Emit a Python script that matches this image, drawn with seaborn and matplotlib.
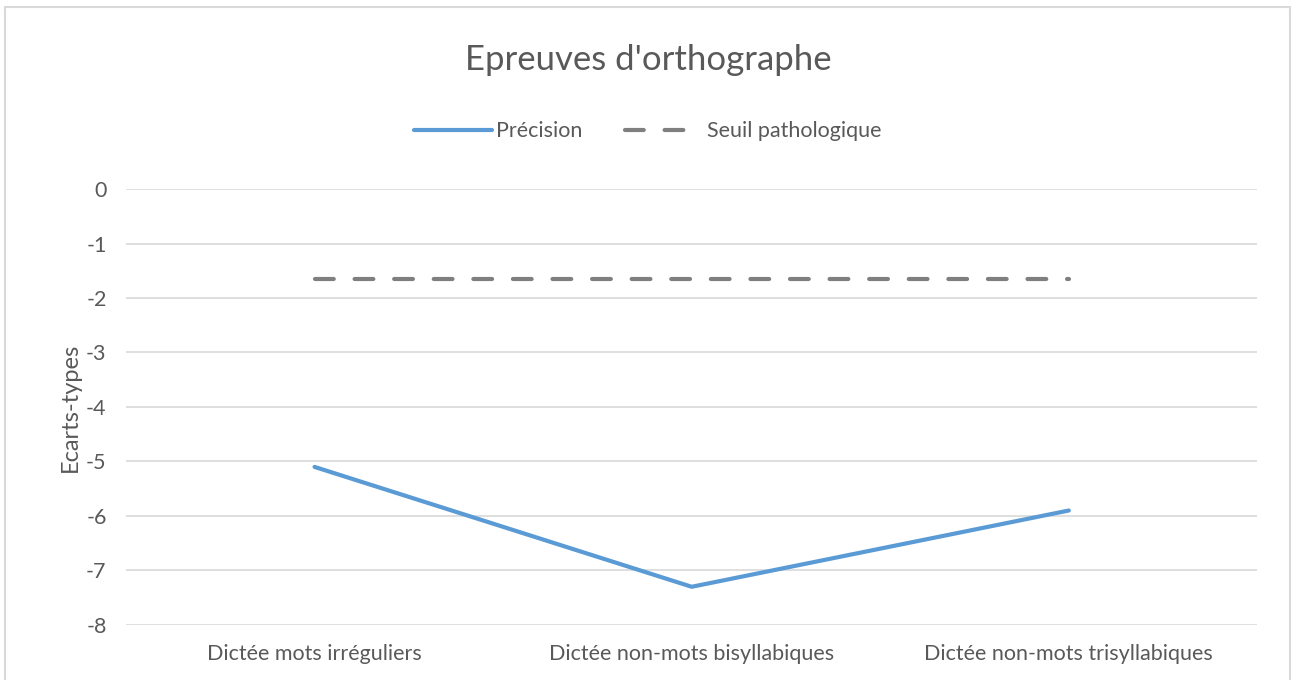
import pandas as pd
import matplotlib.pyplot as plt
import seaborn as sns
from matplotlib.patches import Rectangle

# data
categories = ["Dictée mots irréguliers", "Dictée non-mots bisyllabiques", "Dictée non-mots trisyllabiques"]
precision = [-5.1, -7.3, -5.9]
seuil = [-1.65, -1.65, -1.65]
series_names = ["Précision", "Seuil pathologique"]
y_ticks = [0, -1, -2, -3, -4, -5, -6, -7, -8]

df = pd.DataFrame({
    "categorie": categories * 2,
    "valeur": precision + seuil,
    "serie": [series_names[0]] * 3 + [series_names[1]] * 3,
})

sns.set_theme(style="white")
plt.rcParams['font.family'] = ['Lato', 'DejaVu Sans']
text_col = "#595959"

fig = plt.figure(figsize=(12.96, 6.8), dpi=100)
ax = fig.add_axes([0.0972, 0.081, 0.873, 0.641])

sns.lineplot(data=df, x="categorie", y="valeur", hue="serie", style="serie",
             palette={series_names[0]: "#5B9BD5", series_names[1]: "#7F7F7F"},
             dashes={series_names[0]: "", series_names[1]: (4.5, 5)},
             linewidth=3, dash_capstyle="round", solid_capstyle="round",
             ax=ax)

handles, labels = ax.get_legend_handles_labels()
ax.get_legend().remove()
fig.legend(handles, labels, ncol=2, loc="center", bbox_to_anchor=(0.5, 0.807),
           frameon=False, fontsize=15.5, handlelength=3.6, columnspacing=2.0,
           labelcolor=text_col, handletextpad=0.2)

ax.set_xlim(-0.5, 2.5)
ax.set_ylim(-8, 0)
ax.set_yticks(y_ticks)
ax.set_yticklabels([str(t) for t in y_ticks])
ax.grid(axis="y", color="#D9D9D9", linewidth=1.2)
ax.set_axisbelow(True)
for s in ax.spines.values():
    s.set_visible(False)
ax.tick_params(axis="both", length=0, labelsize=15.5, colors=text_col, pad=14)
ax.tick_params(axis="x", pad=14)
ax.set_xlabel("")
ax.set_ylabel("Ecarts-types", fontsize=17, color=text_col, labelpad=4)

fig.text(0.5, 0.912, "Epreuves d'orthographe", ha="center", va="center",
         fontsize=25, color=text_col)

# chart area border
fig.patches.append(Rectangle((0.004, -0.01), 0.991, 0.999, transform=fig.transFigure,
                             fill=False, edgecolor="#D9D9D9", linewidth=1.5))

fig.savefig("out.png", dpi=100)
